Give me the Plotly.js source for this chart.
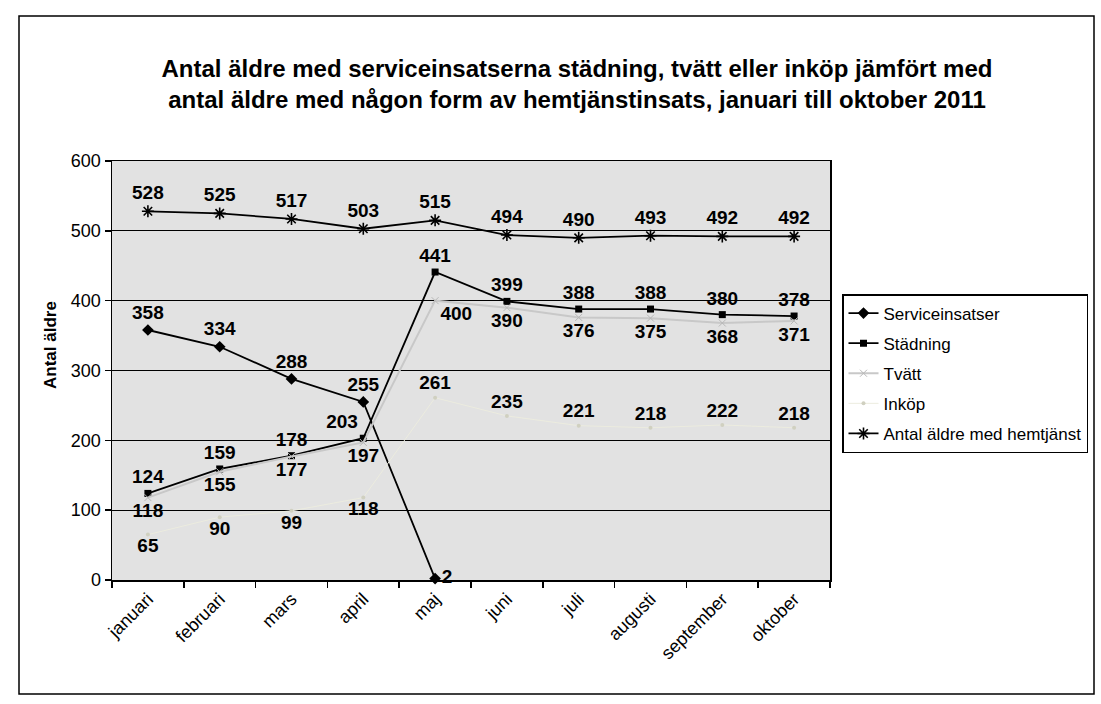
<!DOCTYPE html>
<html>
<head>
<meta charset="utf-8">
<script src="https://cdn.plot.ly/plotly-3.0.1.min.js"></script>
<style>
html,body{margin:0;padding:0;background:#fff;}
#chart{width:1101px;height:704px;}
</style>
</head>
<body>
<div id="chart"></div>
<script>
// ---- data ----
var months = ['januari','februari','mars','april','maj','juni','juli','augusti','september','oktober'];
var serviceinsatser = [358, 334, 288, 255, 2, null, null, null, null, null];
var stadning = [124, 159, 178, 203, 441, 399, 388, 388, 380, 378];
var tvatt = [118, 155, 177, 197, 400, 390, 376, 375, 368, 371];
var inkop = [65, 90, 99, 118, 261, 235, 221, 218, 222, 218];
var hemtjanst = [528, 525, 517, 503, 515, 494, 490, 493, 492, 492];
var yTicks = [0, 100, 200, 300, 400, 500, 600];

var FONT = 'Liberation Sans, Arial, sans-serif';
var labelFont = {family: FONT, size: 19, color: '#000', weight: 'bold'};

function lbl(arr){ return arr.map(function(v){ return v === null ? '' : String(v); }); }

var traces = [
  {
    name: 'Serviceinsatser', x: months, y: serviceinsatser, type: 'scatter', mode: 'lines+markers+text',
    line: {color: '#000', width: 1.8}, marker: {symbol: 'diamond', size: 9, color: '#000'},
    text: lbl(serviceinsatser),
    textposition: ['top center','top center','top center','top center','middle right','top center','top center','top center','top center','top center'],
    textfont: labelFont, legendgroup: 'a', cliponaxis: false
  },
  {
    name: 'Städning', x: months, y: stadning, type: 'scatter', mode: 'lines+markers+text',
    line: {color: '#000', width: 1.8}, marker: {symbol: 'square', size: 7, color: '#000'},
    text: lbl(stadning),
    textposition: ['top center','top center','top center','top left','top center','top center','top center','top center','top center','top center'],
    textfont: labelFont, legendgroup: 'b', cliponaxis: false
  },
  {
    name: 'Tvätt', x: months, y: tvatt, type: 'scatter', mode: 'lines+markers+text',
    line: {color: '#c8c8c8', width: 2}, marker: {symbol: 'x-thin-open', size: 7, color: '#b8b8b8', line: {width: 1, color: '#b8b8b8'}},
    text: lbl(tvatt),
    textposition: ['bottom center','bottom center','bottom center','bottom center','bottom right','bottom center','bottom center','bottom center','bottom center','bottom center'],
    textfont: labelFont, legendgroup: 'c', cliponaxis: false
  },
  {
    name: 'Inköp', x: months, y: inkop, type: 'scatter', mode: 'lines+markers+text',
    line: {color: '#ececdf', width: 1}, marker: {symbol: 'circle', size: 4, color: '#d0d0c0'},
    text: lbl(inkop),
    textposition: ['bottom center','bottom center','bottom center','bottom center','top center','top center','top center','top center','top center','top center'],
    textfont: labelFont, legendgroup: 'd', cliponaxis: false
  },
  {
    name: 'Antal äldre med hemtjänst', x: months, y: hemtjanst, type: 'scatter', mode: 'lines+markers+text',
    line: {color: '#000', width: 1.8}, marker: {symbol: 'asterisk-open', size: 10, color: '#000', line: {width: 1.6, color: '#000'}},
    text: lbl(hemtjanst), textposition: 'top center', textfont: labelFont, legendgroup: 'e', cliponaxis: false
  }
];

var L = 112, R = 830, T = 161, B = 580;
var pw = R - L, ph = B - T;
function px(x){ return (x - L) / pw; }
function py(y){ return (B - y) / ph; }

var layout = {
  width: 1101, height: 704,
  margin: {l: L, r: 1101 - R, t: T, b: 704 - B, pad: 0},
  paper_bgcolor: '#ffffff',
  plot_bgcolor: '#e2e2e2',
  font: {family: FONT, color: '#000'},
  title: {
    text: 'Antal äldre med serviceinsatserna städning, tvätt eller inköp jämfört med<br>antal äldre med någon form av hemtjänstinsats, januari till oktober 2011',
    font: {family: FONT, size: 24, color: '#000', weight: 'bold'},
    x: 577 / 1101, xanchor: 'center', xref: 'container',
    y: 1 - 77 / 704, yanchor: 'middle', yref: 'container'
  },
  xaxis: {
    type: 'category', categoryorder: 'array', categoryarray: months,
    range: [-0.5, 9.5],
    showline: true, linecolor: '#000', linewidth: 1.5, mirror: true,
    ticks: 'outside', tickson: 'boundaries', ticklen: 6, tickcolor: '#000', tickwidth: 1.5,
    tickangle: -45, tickfont: {family: FONT, size: 18, color: '#000'},
    showgrid: false, zeroline: false, fixedrange: true
  },
  yaxis: {
    range: [0, 600], tickvals: yTicks, ticktext: yTicks.map(String),
    showline: true, linecolor: '#000', linewidth: 1.5, mirror: true,
    ticks: 'outside', ticklen: 6, tickcolor: '#000', tickwidth: 1.5,
    tickfont: {family: FONT, size: 18, color: '#000'},
    showgrid: true, gridcolor: '#000', gridwidth: 1, zeroline: false, fixedrange: true,
    title: {text: ''}
  },
  showlegend: true,
  legend: {
    x: px(842), xanchor: 'left', y: py(294), yanchor: 'top',
    bgcolor: '#ffffff', bordercolor: '#000', borderwidth: 1.5,
    font: {family: FONT, size: 17, color: '#000'},
    traceorder: 'grouped', tracegroupgap: 5, itemwidth: 30
  },
  annotations: [
    {
      text: '<b>Antal äldre</b>', xref: 'paper', yref: 'paper',
      x: px(50), y: py(345), xanchor: 'center', yanchor: 'middle',
      textangle: -90, showarrow: false, font: {family: FONT, size: 17, color: '#000'}
    }
  ],
  shapes: [
    {
      type: 'rect', xref: 'paper', yref: 'paper', layer: 'above',
      x0: px(19), x1: px(1094), y0: py(694), y1: py(16),
      line: {color: '#000', width: 1.5}, fillcolor: 'rgba(0,0,0,0)'
    }
  ]
};

Plotly.newPlot('chart', traces, layout, {displayModeBar: false, staticPlot: true});
</script>
</body>
</html>
